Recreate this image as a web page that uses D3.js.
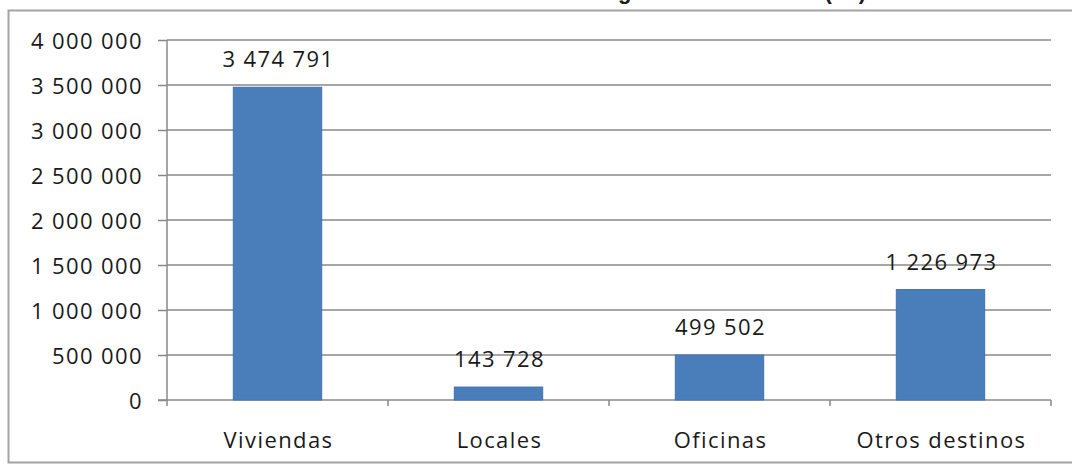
<!DOCTYPE html>
<html>
<head>
<meta charset="utf-8">
<script src="https://cdn.jsdelivr.net/npm/d3@7"></script>
<style>
  html, body { margin: 0; padding: 0; background: #fff; }
  svg { display: block; }
  text { font-family: "Open Sans", sans-serif; fill: #1a1a1a; }
</style>
</head>
<body>
<svg id="chart" width="1072" height="466"></svg>
<script>
// Superficie por destino (m²)
const title = "Total de metros cuadrados según el destino final (m²)";
const categories = ["Viviendas", "Locales", "Oficinas", "Otros destinos"];
const values = [3474791, 143728, 499502, 1226973];
const yTicks = [0, 500000, 1000000, 1500000, 2000000, 2500000, 3000000, 3500000, 4000000];

const W = 1072, H = 466;
const margin = { left: 167, right: 21, top: 40, bottom: 66 };
const fontSize = "22px", spacing = "1.4px";

const svg = d3.select("#chart");

// number format with space as thousands separator
const locale = d3.formatLocale({ decimal: ",", thousands: " ", grouping: [3], currency: ["", ""] });
const fmt = locale.format(",d");

const x = d3.scaleBand()
  .domain(categories)
  .range([margin.left, W - margin.right])
  .paddingInner(0.6)
  .paddingOuter(0.3);

const y = d3.scaleLinear()
  .domain([0, 4000000])
  .range([H - margin.bottom, margin.top]);

// chart frame
svg.append("rect")
  .attr("x", 8.5).attr("y", 10.5)
  .attr("width", 1100).attr("height", 452)
  .attr("fill", "none")
  .attr("stroke", "#a3a3a3")
  .attr("stroke-width", 2);

// title (runs off the top edge)
svg.append("text")
  .attr("x", 866).attr("y", -1)
  .attr("text-anchor", "end")
  .style("font-family", "'Liberation Sans', Arial, sans-serif")
  .style("font-weight", "bold")
  .style("font-size", "22px")
  .text(title);

const axisColor = "#888";

// horizontal gridlines
svg.append("g")
  .selectAll("line")
  .data(yTicks.filter(d => d > 0))
  .join("line")
  .attr("x1", margin.left).attr("x2", W - margin.right)
  .attr("y1", d => y(d)).attr("y2", d => y(d))
  .attr("stroke", axisColor)
  .attr("stroke-width", 1.5);

// y axis
const yAxis = d3.axisLeft(y)
  .tickValues(yTicks)
  .tickSize(9)
  .tickPadding(15)
  .tickFormat(fmt);

const gy = svg.append("g")
  .attr("transform", `translate(${margin.left},0)`)
  .call(yAxis);
gy.select(".domain").attr("stroke", axisColor).attr("stroke-width", 1.5)
  .attr("d", `M0,${y(4000000)}V${y(0) + 6}`);
gy.selectAll(".tick line").attr("stroke", axisColor).attr("stroke-width", 1.5);
gy.selectAll(".tick text")
  .attr("fill", "#1a1a1a")
  .style("font-family", "'Open Sans', sans-serif")
  .style("font-size", fontSize)
  .style("letter-spacing", spacing)
  .attr("dy", "0.4em");

// x axis line and category separators
const boundaries = d3.range(categories.length + 1).map(i => margin.left + i * x.step());
svg.append("line")
  .attr("x1", margin.left - 9).attr("x2", W - margin.right)
  .attr("y1", y(0)).attr("y2", y(0))
  .attr("stroke", axisColor).attr("stroke-width", 1.5);
svg.append("g")
  .selectAll("line")
  .data(boundaries.slice(1))
  .join("line")
  .attr("x1", d => d).attr("x2", d => d)
  .attr("y1", y(0)).attr("y2", y(0) + 6)
  .attr("stroke", axisColor).attr("stroke-width", 1.5);

// category labels
svg.append("g")
  .selectAll("text")
  .data(categories)
  .join("text")
  .attr("x", d => x(d) + x.bandwidth() / 2 + 1)
  .attr("y", y(0) + 48)
  .attr("text-anchor", "middle")
  .style("font-size", fontSize)
  .style("letter-spacing", spacing)
  .text(d => d);

// bars
const data = categories.map((c, i) => ({ c, v: values[i] }));
svg.append("g")
  .selectAll("rect")
  .data(data)
  .join("rect")
  .attr("x", d => x(d.c))
  .attr("y", d => y(d.v))
  .attr("width", x.bandwidth())
  .attr("height", d => y(0) - y(d.v))
  .attr("fill", "#4a7ebb")
  .attr("stroke", "#4072ad")
  .attr("stroke-width", 1);

// value labels
svg.append("g")
  .selectAll("text")
  .data(data)
  .join("text")
  .attr("x", d => x(d.c) + x.bandwidth() / 2 + 1)
  .attr("y", d => y(d.v) - 20)
  .attr("text-anchor", "middle")
  .style("font-size", fontSize)
  .style("letter-spacing", spacing)
  .text(d => fmt(d.v));
</script>
</body>
</html>
